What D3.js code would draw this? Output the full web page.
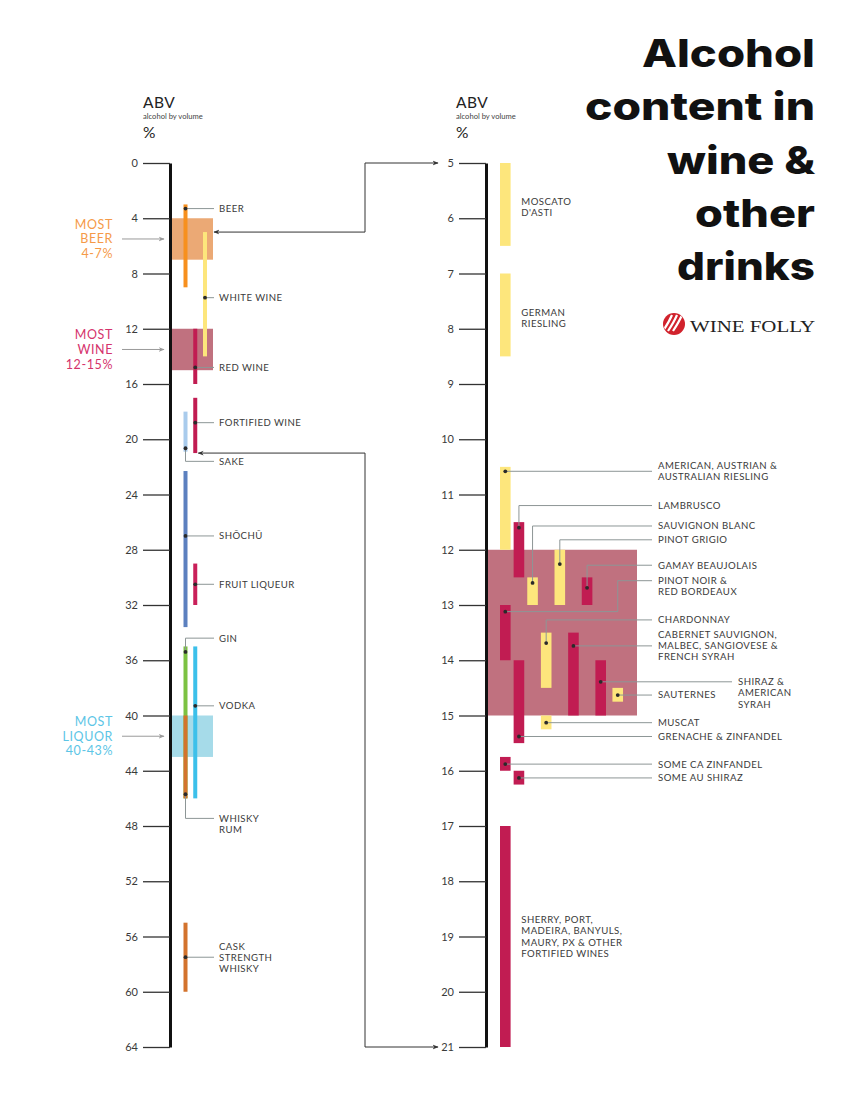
<!DOCTYPE html>
<html><head><meta charset="utf-8">
<script src="https://cdn.jsdelivr.net/npm/d3@7"></script>
<style>
body{margin:0;background:#fff;}
svg{display:block;font-family:Lato,"Open Sans",sans-serif;}
</style></head><body>
<svg id="chart" width="860" height="1101"></svg>
<script>
// ---------- DATA ----------
const leftTicks = [0, 4, 8, 12, 16, 20, 24, 28, 32, 36, 40, 44, 48, 52, 56, 60, 64];
const rightTicks = [5, 6, 7, 8, 9, 10, 11, 12, 13, 14, 15, 16, 17, 18, 19, 20, 21];

const drinkNames = [["BEER"], ["WHITE WINE"], ["RED WINE"], ["FORTIFIED WINE"], ["SAKE"], ["SHŌCHŪ"], ["FRUIT LIQUEUR"], ["GIN"], ["VODKA"], ["WHISKY", "RUM"], ["CASK", "STRENGTH", "WHISKY"]];
const drinkLow = [3, 5, 12, 17, 18, 22.3, 29, 35, 35, 40, 55];
const drinkHigh = [9, 14, 16, 21, 20.9, 33.6, 32, 46, 46, 46, 60];
const drinkDot = [3.3, 9.75, 14.8, 18.8, 20.65, 27, 30.5, 35.4, 39.3, 45.7, 57.5];
const drinkLabelAt = [3.3, 9.75, 14.8, 18.8, 21.6, 27, 30.5, 34.4, 39.3, 47.45, 57.5];
const drinkLabelLine = [0, 0, 0, 0, 0, 0, 0, 0, 0, 0, 1];
const drinkColumn = [0, 2, 1, 1, 0, 0, 1, 0, 1, 0, 0];
const drinkColors = ["#f7901e", "#fde67c", "#c11c52", "#c11c52", "#a9cbec", "#5c80bf", "#c9205a", "#7cc242", "#3cc0ea", "#d3732d", "#d3732d"];

const rangeNames = [["MOST", "BEER", "4-7%"], ["MOST", "WINE", "12-15%"], ["MOST", "LIQUOR", "40-43%"]];
const rangeLow = [4, 12, 40];
const rangeHigh = [7, 15, 43];
const rangeFill = ["#eba975", "#c0717f", "#a6dbe9"];
const rangeText = ["#f59a48", "#d5336c", "#5cc5e6"];

const wineNames = [["MOSCATO", "D'ASTI"], ["GERMAN", "RIESLING"], ["AMERICAN, AUSTRIAN &", "AUSTRALIAN RIESLING"], ["LAMBRUSCO"], ["SAUVIGNON BLANC"], ["PINOT GRIGIO"], ["GAMAY BEAUJOLAIS"], ["PINOT NOIR &", "RED BORDEAUX"], ["CHARDONNAY"], ["CABERNET SAUVIGNON,", "MALBEC, SANGIOVESE &", "FRENCH SYRAH"], ["SHIRAZ &", "AMERICAN", "SYRAH"], ["SAUTERNES"], ["MUSCAT"], ["GRENACHE & ZINFANDEL"], ["SOME CA ZINFANDEL"], ["SOME AU SHIRAZ"], ["SHERRY, PORT,", "MADEIRA, BANYULS,", "MAURY, PX & OTHER", "FORTIFIED WINES"]];
const wineLow = [5, 7, 10.5, 11.5, 12.5, 12, 12.5, 13, 13.5, 13.5, 14, 14.5, 15, 14, 15.75, 16, 17];
const wineHigh = [6.5, 8.5, 12, 12.5, 13, 13, 13, 14, 14.5, 15, 15, 14.75, 15.25, 15.5, 16, 16.25, 21];
const wineDot = [null, null, 10.58, 11.6, 12.6, 12.26, 12.69, 13.12, 13.69, 13.74, 14.39, 14.63, 15.13, 15.38, 15.88, 16.13, null];
const wineLabelAt = [5.8, 7.81, 10.58, 11.2, 11.57, 11.82, 12.28, 12.56, 13.27, 13.74, 14.39, 14.63, 15.13, 15.38, 15.88, 16.13, 19.0];
const wineLabelLine = [0.5, 0.5, 0.5, 0, 0, 0, 0, 0, 0, 1, 0, 0, 0, 0, 0, 0, 1.5];
const wineColumn = [0, 0, 0, 1, 2, 4, 6, 0, 3, 5, 7, 8.25, 3, 1, 0, 1, 0];
const wineElbow = [null, null, null, null, null, null, null, 8.25, null, null, null, null, null, null, null, null, null];
const wineLabelSlot = ["bar", "bar", "list", "list", "list", "list", "list", "list", "list", "list", "far", "list", "list", "list", "list", "list", "bar"];
const wineType = ["white", "white", "white", "red", "white", "white", "red", "red", "white", "red", "red", "white", "white", "red", "red", "red", "red"];
const wineColors = { white: "#fde67c", red: "#c11c52" };
const wineRangeLow = 12, wineRangeHigh = 15;

const titleLines = ["Alcohol", "content in", "wine &", "other", "drinks"];
const titleWidths = [173, 230, 148, 120, 138];

// ---------- LAYOUT ----------
const svg = d3.select("#chart");
const yTop = 163, yBottom = 1047;
const axL = 170, axR = 486;
const yL = d3.scaleLinear().domain([0, 64]).range([yTop, yBottom]);
const yR = d3.scaleLinear().domain([5, 21]).range([yTop, yBottom]);
const colL = d3.scaleLinear().domain([0, 2]).range([185.5, 205]);
const colR = d3.scaleLinear().domain([0, 7]).range([505.3, 600.7]);
const textColor = "#3a3a3a";
const leaderColor = "#8d9696";

const defs = svg.append("defs");
function marker(id, color, size) {
  defs.append("marker").attr("id", id).attr("viewBox", "0 0 10 10")
    .attr("refX", 9).attr("refY", 5).attr("markerWidth", size).attr("markerHeight", size)
    .attr("orient", "auto-start-reverse")
    .append("path").attr("d", "M0,1 L10,5 L0,9 L3,5 Z").attr("fill", color);
}
marker("arr", "#333", 6);
marker("arrg", "#9a9a9a", 6);

// ---------- HEADERS ----------
function header(x) {
  const g = svg.append("g").attr("fill", "#222");
  g.append("text").attr("x", x).attr("y", 108).attr("font-size", 15.5).attr("font-weight", 400).attr("letter-spacing", 0.5).text("ABV");
  g.append("text").attr("x", x).attr("y", 119).attr("font-size", 7.6).attr("fill", "#444").text("alcohol by volume");
  g.append("text").attr("x", x).attr("y", 138).attr("font-size", 15.5).text("%");
}
header(143);
header(456);

// ---------- RANGE BOXES ----------
svg.append("g").selectAll("rect").data(rangeLow).join("rect")
  .attr("x", axL).attr("width", 43)
  .attr("y", (d) => yL(d)).attr("height", (d, i) => yL(rangeHigh[i]) - yL(d))
  .attr("fill", (d, i) => rangeFill[i]);

rangeNames.forEach((lines, i) => {
  const mid = yL((rangeLow[i] + rangeHigh[i]) / 2);
  const t = svg.append("text").attr("text-anchor", "end").attr("fill", rangeText[i])
    .attr("font-size", 12.5).attr("letter-spacing", 0.6);
  lines.forEach((s, k) => t.append("tspan").attr("x", 113).attr("y", mid + (k - 1) * 14.6 + 4.5).text(s));
  svg.append("line").attr("x1", 122).attr("x2", 164).attr("y1", mid).attr("y2", mid)
    .attr("stroke", "#9a9a9a").attr("stroke-width", 1).attr("marker-end", "url(#arrg)");
});

// right wine box
svg.append("rect").attr("x", axR).attr("width", 151)
  .attr("y", yR(wineRangeLow)).attr("height", yR(wineRangeHigh) - yR(wineRangeLow))
  .attr("fill", rangeFill[1]);

// ---------- AXES ----------
function styleAxis(g) {
  g.select(".domain").attr("stroke", "#111").attr("stroke-width", 3);
  g.selectAll(".tick line").attr("stroke", "#333").attr("stroke-width", 1.3);
  g.selectAll(".tick text").attr("font-size", 11).attr("fill", textColor).attr("font-family", "Lato, 'Open Sans', sans-serif");
}
svg.append("g").attr("transform", `translate(${axL},0)`)
  .call(d3.axisLeft(yL).tickValues(leftTicks).tickSize(27).tickSizeOuter(0).tickPadding(5))
  .call(styleAxis);
svg.append("g").attr("transform", `translate(${axR},0)`)
  .call(d3.axisLeft(yR).tickValues(rightTicks).tickSize(27).tickSizeOuter(0).tickPadding(5))
  .call(styleAxis);

// ---------- LEFT BARS ----------
const leftLabelX = 219;
drinkNames.forEach((lines, i) => {
  const x = colL(drinkColumn[i]);
  svg.append("rect").attr("x", x - 2).attr("width", 4)
    .attr("y", yL(drinkLow[i])).attr("height", yL(drinkHigh[i]) - yL(drinkLow[i]))
    .attr("fill", drinkColors[i]);
});
drinkNames.forEach((lines, i) => {
  const x = colL(drinkColumn[i]);
  const dy = yL(drinkDot[i]), ly = yL(drinkLabelAt[i]);
  svg.append("path").attr("d", `M${x},${dy}V${ly}H${leftLabelX - 5}`)
    .attr("fill", "none").attr("stroke", leaderColor).attr("stroke-width", 1);
  svg.append("circle").attr("cx", x).attr("cy", dy).attr("r", 1.9).attr("fill", "#2a2a2a");
  const t = svg.append("text").attr("font-size", 9.6).attr("fill", textColor).attr("letter-spacing", 0.45);
  lines.forEach((s, k) => t.append("tspan").attr("x", leftLabelX)
    .attr("y", ly + (k - drinkLabelLine[i]) * 11 + 3.4).text(s));
});

// ---------- RIGHT BARS ----------
const listX = 658, farX = 738;
wineNames.forEach((lines, i) => {
  const x = colR(wineColumn[i]);
  svg.append("rect").attr("x", x - 5.3).attr("width", 10.6)
    .attr("y", yR(wineLow[i])).attr("height", yR(wineHigh[i]) - yR(wineLow[i]))
    .attr("fill", wineColors[wineType[i]]);
});
wineNames.forEach((lines, i) => {
  const x = colR(wineColumn[i]);
  const ly = yR(wineLabelAt[i]);
  let lx;
  if (wineLabelSlot[i] === "bar") lx = x + 16;
  else lx = wineLabelSlot[i] === "far" ? farX : listX;
  if (wineDot[i] !== null) {
    const dy = yR(wineDot[i]);
    const d = wineElbow[i] !== null
      ? `M${x},${dy}H${colR(wineElbow[i])}V${ly}H${lx - 6}`
      : `M${x},${dy}V${ly}H${lx - 6}`;
    svg.append("path").attr("d", d).attr("fill", "none").attr("stroke", leaderColor).attr("stroke-width", 1);
    svg.append("circle").attr("cx", x).attr("cy", dy).attr("r", 1.9).attr("fill", "#2a2a2a");
  }
  const t = svg.append("text").attr("font-size", 9.6).attr("fill", textColor).attr("letter-spacing", 0.45);
  lines.forEach((s, k) => t.append("tspan").attr("x", lx)
    .attr("y", ly + (k - wineLabelLine[i]) * 11.2 + 3.4).text(s));
});

// ---------- CONNECTORS ----------
const bridgeX = 365;
svg.append("path").attr("d", `M${axR - 48},${yR(5)}H${bridgeX}V${yL(5)}H${axL + 44}`)
  .attr("fill", "none").attr("stroke", "#333").attr("stroke-width", 1)
  .attr("marker-start", "url(#arr)").attr("marker-end", "url(#arr)");
svg.append("path").attr("d", `M${axR - 48},${yR(21)}H${bridgeX}V${yL(21)}H${colL(1) + 3}`)
  .attr("fill", "none").attr("stroke", "#333").attr("stroke-width", 1)
  .attr("marker-start", "url(#arr)").attr("marker-end", "url(#arr)");

// ---------- TITLE ----------
const tg = svg.append("g").attr("font-family", "Inter, Lato, sans-serif").attr("font-weight", 800).attr("fill", "#111");
titleLines.forEach((s, i) => {
  tg.append("text").attr("x", 815).attr("y", 67 + i * 53.3).attr("text-anchor", "end")
    .attr("font-size", 38).attr("textLength", titleWidths[i]).attr("lengthAdjust", "spacingAndGlyphs").text(s);
});

// ---------- LOGO ----------
const logo = svg.append("g").attr("transform", "translate(674,324)");
defs.append("clipPath").attr("id", "lc").append("circle").attr("r", 10.5);
logo.append("circle").attr("r", 11).attr("fill", "#d1222c");
const stripes = logo.append("g").attr("clip-path", "url(#lc)");
[-5, 0, 5].forEach((o) => {
  stripes.append("path").attr("d", `M${o - 6},7 Q${o},-2 ${o + 3},-9`)
    .attr("fill", "none").attr("stroke", "#fff").attr("stroke-width", 2.2);
});
svg.append("text").attr("x", 690).attr("y", 331.5).attr("font-family", "'Liberation Serif', 'DejaVu Serif', serif")
  .attr("font-size", 17).attr("fill", "#222").attr("textLength", 125).attr("lengthAdjust", "spacingAndGlyphs").text("WINE FOLLY");
</script>
</body></html>
